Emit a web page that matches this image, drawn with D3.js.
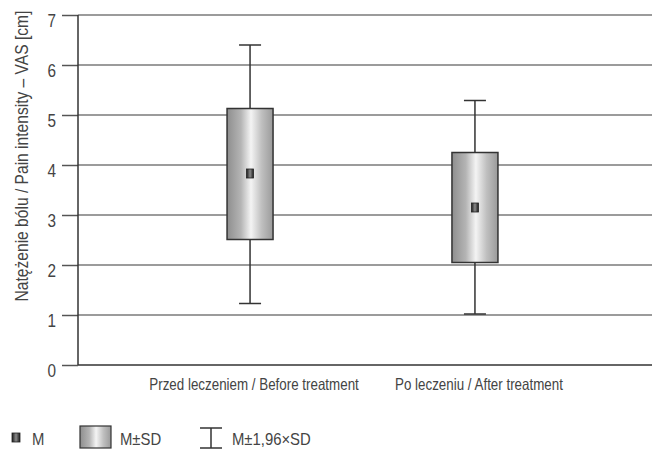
<!DOCTYPE html>
<html>
<head>
<meta charset="utf-8">
<script src="https://cdn.jsdelivr.net/npm/d3@7"></script>
<style>
	body { margin: 0; background: #fff; }
	text { font-family: "Liberation Sans", "Arimo", "DejaVu Sans", sans-serif; fill: #444; }
</style>
</head>
<body>
<svg id="chart" width="652" height="449"></svg>
<script>
const categories = ["Przed leczeniem / Before treatment", "Po leczeniu / After treatment"];
const means = [3.83, 3.15];
const sdLow = [2.51, 2.05];
const sdHigh = [5.13, 4.25];
const ciLow = [1.23, 1.02];
const ciHigh = [6.4, 5.29];
const yTicks = [0, 1, 2, 3, 4, 5, 6, 7];
const legendLabels = ["M", "M\u00b1SD", "M\u00b11,96\u00d7SD"];
const yTitle = "Nat\u0119\u017cenie b\u00f3lu / Pain intensity \u2013 VAS [cm]";

const svg = d3.select("#chart");
const width = 652;

// condensed look: the original uses a narrow face, squeeze the text horizontally
function narrow(sel, factor) {
	sel.each(function () {
		const w = this.getComputedTextLength();
		d3.select(this).attr("textLength", w * factor).attr("lengthAdjust", "spacingAndGlyphs");
	});
}

const y = d3.scaleLinear().domain([0, 7]).range([365, 15]);
const x = d3.scalePoint().domain(categories).range([78, 647]).padding(0.765);

// gradients
const defs = svg.append("defs");
const grad = defs.append("linearGradient").attr("id", "boxGrad").attr("x1", "0%").attr("x2", "100%");
grad.append("stop").attr("offset", "0%").attr("stop-color", "#8e8e8e");
grad.append("stop").attr("offset", "30%").attr("stop-color", "#b4b4b4");
grad.append("stop").attr("offset", "52%").attr("stop-color", "#f4f4f4");
grad.append("stop").attr("offset", "75%").attr("stop-color", "#c0c0c0");
grad.append("stop").attr("offset", "100%").attr("stop-color", "#9a9a9a");

const mGrad = defs.append("linearGradient").attr("id", "meanGrad").attr("x1", "0%").attr("x2", "100%");
mGrad.append("stop").attr("offset", "0%").attr("stop-color", "#1a1a1a");
mGrad.append("stop").attr("offset", "50%").attr("stop-color", "#8a8a8a");
mGrad.append("stop").attr("offset", "100%").attr("stop-color", "#1a1a1a");

// grid lines
svg.append("g")
	.selectAll("line")
	.data(yTicks.filter((t) => t > 0))
	.join("line")
	.attr("x1", 78)
	.attr("x2", width)
	.attr("y1", (d) => y(d))
	.attr("y2", (d) => y(d))
	.attr("stroke", "#7a7a7a")
	.attr("stroke-width", 1.5);

// y axis
const yAxis = svg.append("g")
	.attr("transform", "translate(78,0)")
	.call(d3.axisLeft(y).tickValues(yTicks).tickFormat(d3.format("d")).tickSize(16).tickPadding(6));
yAxis.select(".domain").remove();
yAxis.selectAll(".tick line").attr("stroke", "#555").attr("stroke-width", 1.5);
yAxis.selectAll(".tick text")
	.attr("font-size", 18)
	.attr("dy", null)
	.attr("y", 11)
	.attr("font-family", null)
	.style("fill", "#444")
	.call(narrow, 0.85);

svg.append("line")
	.attr("x1", 78).attr("x2", 78)
	.attr("y1", y(7)).attr("y2", y(0))
	.attr("stroke", "#333").attr("stroke-width", 1.5);
svg.append("line")
	.attr("x1", 78).attr("x2", width)
	.attr("y1", y(0)).attr("y2", y(0))
	.attr("stroke", "#333").attr("stroke-width", 1.5);

// y title, squeezed with a scale so its box stays inside the picture
const title = svg.append("text")
	.attr("text-anchor", "middle")
	.attr("font-size", 17.5)
	.text(yTitle);
const titleScale = 291 / title.node().getComputedTextLength();
title.attr("transform", `translate(28,156) rotate(-90) scale(${titleScale},1)`);

// x labels
svg.append("g")
	.selectAll("text")
	.data(categories)
	.join("text")
	.attr("x", (d) => x(d) + 4)
	.attr("y", 390)
	.attr("text-anchor", "middle")
	.attr("font-size", 16.5)
	.text((d) => d)
	.call(narrow, 0.81);

// boxes
const boxW = 46, capW = 22;
const groups = svg.append("g")
	.selectAll("g")
	.data(categories)
	.join("g");

groups.append("line")
	.attr("x1", (d) => x(d)).attr("x2", (d) => x(d))
	.attr("y1", (d, i) => y(ciHigh[i]))
	.attr("y2", (d, i) => y(ciLow[i]))
	.attr("stroke", "#333").attr("stroke-width", 1.5);
groups.append("line")
	.attr("x1", (d) => x(d) - capW / 2).attr("x2", (d) => x(d) + capW / 2)
	.attr("y1", (d, i) => y(ciHigh[i])).attr("y2", (d, i) => y(ciHigh[i]))
	.attr("stroke", "#333").attr("stroke-width", 1.5);
groups.append("line")
	.attr("x1", (d) => x(d) - capW / 2).attr("x2", (d) => x(d) + capW / 2)
	.attr("y1", (d, i) => y(ciLow[i])).attr("y2", (d, i) => y(ciLow[i]))
	.attr("stroke", "#333").attr("stroke-width", 1.5);
groups.append("rect")
	.attr("x", (d) => x(d) - boxW / 2)
	.attr("width", boxW)
	.attr("y", (d, i) => y(sdHigh[i]))
	.attr("height", (d, i) => y(sdLow[i]) - y(sdHigh[i]))
	.attr("fill", "url(#boxGrad)")
	.attr("stroke", "#333").attr("stroke-width", 1.5);
groups.append("rect")
	.attr("x", (d) => x(d) - 3.5)
	.attr("width", 7)
	.attr("y", (d, i) => y(means[i]) - 4.5)
	.attr("height", 9)
	.attr("fill", "url(#meanGrad)")
	.attr("stroke", "#222").attr("stroke-width", 0.8);

// legend
const leg = svg.append("g");
leg.append("rect").attr("x", 12).attr("y", 433).attr("width", 8).attr("height", 9)
	.attr("fill", "url(#meanGrad)").attr("stroke", "#222").attr("stroke-width", 0.8);
leg.append("rect").attr("x", 80).attr("y", 426).attr("width", 31).attr("height", 22)
	.attr("fill", "url(#boxGrad)").attr("stroke", "#333").attr("stroke-width", 1.2);
leg.append("line").attr("x1", 211).attr("x2", 211).attr("y1", 428).attr("y2", 448)
	.attr("stroke", "#333").attr("stroke-width", 1.5);
leg.append("line").attr("x1", 200).attr("x2", 222).attr("y1", 428).attr("y2", 428)
	.attr("stroke", "#333").attr("stroke-width", 1.5);
leg.append("line").attr("x1", 200).attr("x2", 222).attr("y1", 448).attr("y2", 448)
	.attr("stroke", "#333").attr("stroke-width", 1.5);
leg.selectAll("text.lbl")
	.data(legendLabels)
	.join("text")
	.attr("class", "lbl")
	.attr("x", (d, i) => [32, 120, 232][i])
	.attr("y", 445)
	.attr("font-size", 16.5)
	.text((d) => d)
	.call(narrow, 0.9);
</script>
</body>
</html>
